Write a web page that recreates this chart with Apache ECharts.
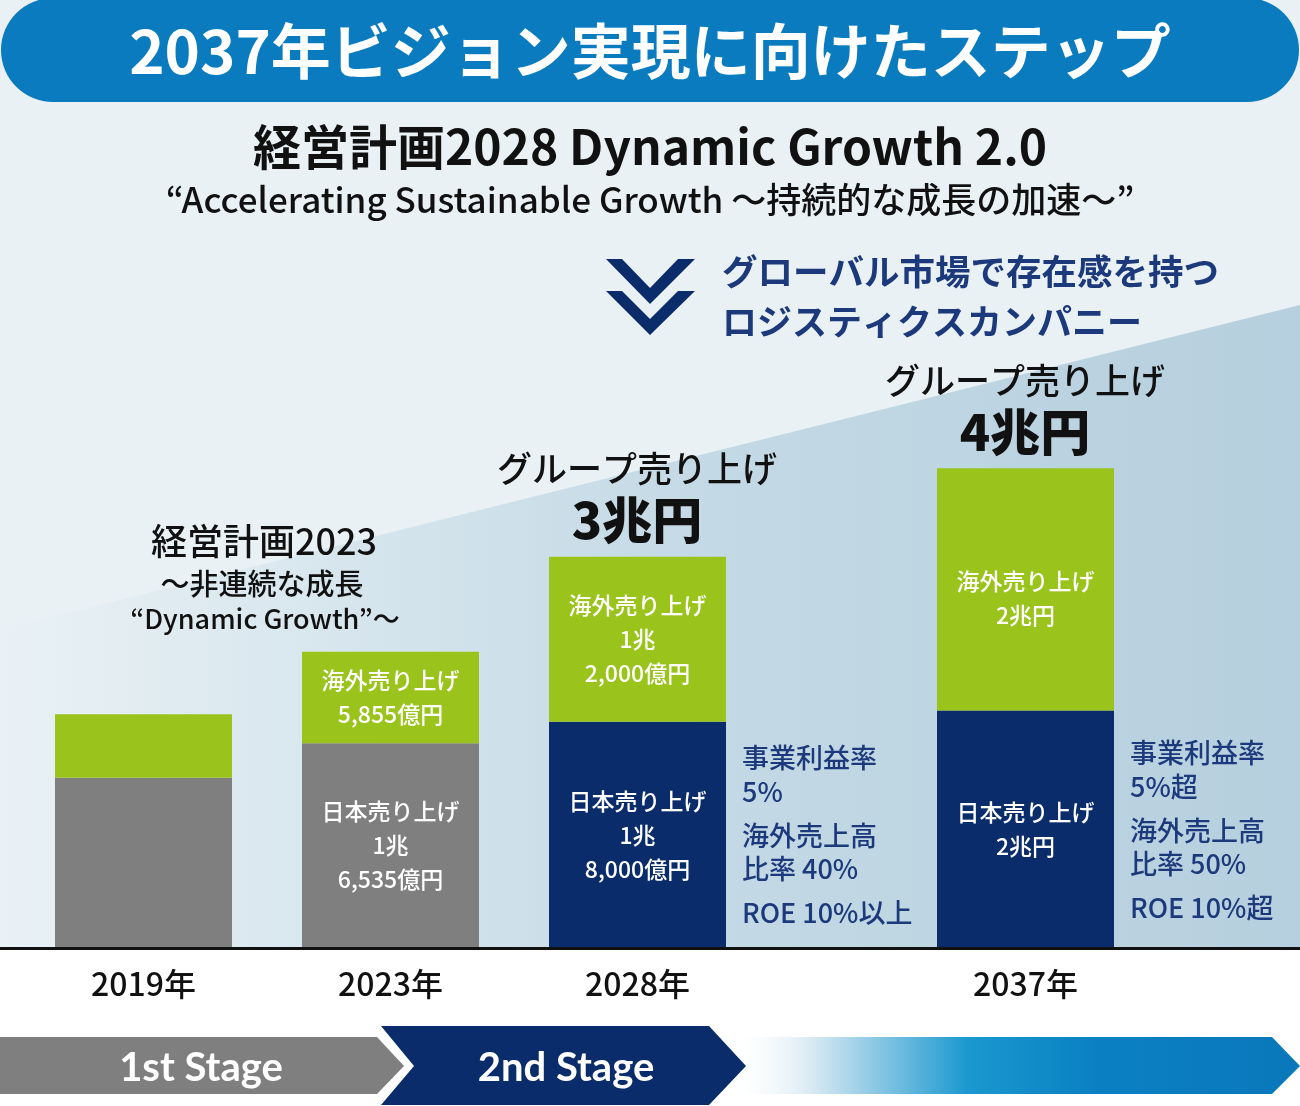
<!DOCTYPE html>
<html>
<head>
<meta charset="utf-8">
<script src="https://cdn.jsdelivr.net/npm/echarts@6/dist/echarts.min.js"></script>
<style>
html,body{margin:0;padding:0;background:#fff;}
#c{width:1300px;height:1106px;}
</style>
</head>
<body>
<div id="c"></div>
<script>
// ---- data (億円, bar heights as drawn in the picture) ----
const categories = ["2019年", "2023年", "2028年", "2037年"];
const japanSales = [13060, 15690, 17350, 18210];
const overseasSales = [4860, 7020, 12650, 18570];
const japanLabels = ["", "日本売り上げ\n1兆\n6,535億円", "日本売り上げ\n1兆\n8,000億円", "日本売り上げ\n2兆円"];
const overseasLabels = ["", "海外売り上げ\n5,855億円", "海外売り上げ\n1兆\n2,000億円", "海外売り上げ\n2兆円"];
const groupTotals = ["", "", "3兆円", "4兆円"];
const kpi2028 = ["事業利益率", "5%", "海外売上高", "比率 40%", "ROE 10%以上"];
const kpi2037 = ["事業利益率", "5%超", "海外売上高", "比率 50%", "ROE 10%超"];
const stages = ["1st Stage", "2nd Stage"];

const FONT = "'Noto Sans CJK JP', 'Noto Sans', sans-serif";
const GRAY = "#7f7f7f", NAVY = "#0b2c6b", GREEN = "#9ac31c", BLUE = "#0a7bbf", KPI = "#1c3a7b";
const japanColors = [GRAY, GRAY, NAVY, NAVY];

const chart = echarts.init(document.getElementById('c'));

function txt(text, x, y, size, weight, fill, align, family) {
  return {
    type: 'text', x: x, y: y, z: 20,
    style: { text: text, fontSize: size, fontWeight: weight, fontFamily: family || FONT, fill: fill,
             align: align || 'center', verticalAlign: 'middle' }
  };
}

function barItem(i, vals, labels, colors, offsetY) {
  return {
    value: vals[i],
    itemStyle: { color: colors ? colors[i] : GREEN },
    label: { formatter: labels[i], offset: [0, offsetY || 0] }
  };
}

const labelCommon = {
  show: true, position: 'inside', color: '#fff', fontSize: 23, fontWeight: 500,
  fontFamily: FONT, lineHeight: 34, align: 'center'
};

const yMax = 60000;
const gridBottom = 158;
const gridHeight = 782.6;

const graphics = [];
// background
graphics.push({ type: 'rect', z: -10, shape: { x: 0, y: 0, width: 1300, height: 949 }, style: { fill: '#e9f1f5' } });
graphics.push({ type: 'polygon', z: -9, shape: { points: [[0, 630], [1300, 305], [1300, 949], [0, 949]] },
  style: { fill: new echarts.graphic.LinearGradient(0, 0, 1, 0, [
    { offset: 0, color: '#e9f1f5' }, { offset: 0.55, color: '#c3d9e5' }, { offset: 1, color: '#b6cfde' }]) } });
graphics.push({ type: 'rect', z: -9, shape: { x: 0, y: 949, width: 1300, height: 157 }, style: { fill: '#ffffff' } });
// title banner
graphics.push({ type: 'rect', z: 5, shape: { x: 1, y: -2, width: 1298, height: 104, r: 52 }, style: { fill: BLUE } });
graphics.push(txt("2037年ビジョン実現に向けたステップ", 650, 51, 60, 'bold', '#fff'));
graphics.push(txt("経営計画2028 Dynamic Growth 2.0", 650, 147, 48, 'bold', '#111'));
graphics.push(txt("“Accelerating Sustainable Growth ～持続的な成長の加速～”", 650, 200, 35, 500, '#111'));
// chevrons
graphics.push({ type: 'polygon', z: 20, shape: { points: [[606, 259], [622, 259], [650, 288], [678, 259], [695, 259], [650, 304]] }, style: { fill: NAVY } });
graphics.push({ type: 'polygon', z: 20, shape: { points: [[606, 291], [622, 291], [650, 319], [678, 291], [695, 291], [650, 335]] }, style: { fill: NAVY } });
graphics.push(txt("グローバル市場で存在感を持つ", 722, 272, 35.5, 'bold', KPI, 'left'));
graphics.push(txt("ロジスティクスカンパニー", 722, 322, 35, 'bold', KPI, 'left'));
// plan 2023 note
graphics.push(txt("経営計画2023", 264, 541, 36, 500, '#111'));
graphics.push(txt("～非連続な成長", 262, 584, 29, 500, '#111'));
graphics.push(txt("“Dynamic Growth”～", 265, 619, 27, 500, '#111'));
// group totals
graphics.push(txt("グループ売り上げ", 637, 469, 35, 500, '#111'));
graphics.push(txt(groupTotals[2], 637, 520, 50, 900, '#111'));
graphics.push(txt("グループ売り上げ", 1025, 381, 35, 500, '#111'));
graphics.push(txt(groupTotals[3], 1025, 432, 50, 900, '#111'));
// KPIs
const kpiY2028 = [758, 792, 836, 869, 913];
kpi2028.forEach((t, i) => graphics.push(txt(t, 742, kpiY2028[i], 27, 500, KPI, 'left')));
kpi2037.forEach((t, i) => graphics.push(txt(t, 1130, kpiY2028[i] - 5, 27, 500, KPI, 'left')));
// baseline
graphics.push({ type: 'line', z: 50, shape: { x1: 0, y1: 948.5, x2: 1300, y2: 948.5 }, style: { stroke: '#111', lineWidth: 3 } });
// stage arrows
graphics.push({ type: 'polygon', z: 5, shape: { points: [[728, 1037], [1272, 1037], [1300, 1066], [1272, 1094], [728, 1094]] },
  style: { fill: new echarts.graphic.LinearGradient(0, 0, 1, 0, [
    { offset: 0, color: 'rgba(255,255,255,0)' }, { offset: 0.15, color: '#d6e8f2' }, { offset: 0.42, color: '#1a98cf' },
    { offset: 0.65, color: '#0a80c2' }, { offset: 1, color: '#0a78bb' }]) } });
graphics.push({ type: 'polygon', z: 6, shape: { points: [[0, 1037], [377, 1037], [404, 1066], [377, 1094], [0, 1094]] }, style: { fill: GRAY } });
graphics.push({ type: 'polygon', z: 6, shape: { points: [[381, 1026], [709, 1026], [746, 1066], [709, 1105], [381, 1105], [414, 1066]] }, style: { fill: NAVY } });
graphics.push(txt(stages[0], 201, 1068, 40, 'bold', '#fff', 'center', "'Lato', 'Noto Sans', sans-serif"));
graphics.push(txt(stages[1], 566, 1068, 40, 'bold', '#fff', 'center', "'Lato', 'Noto Sans', sans-serif"));

const xAxisCommon = {
  type: 'category', axisLine: { show: false }, axisTick: { show: false },
  axisLabel: { color: '#111', fontSize: 32, fontWeight: 500, fontFamily: FONT, margin: 20 }
};

const option = {
  backgroundColor: '#ffffff',
  animation: false,
  grid: [
    { left: 20, width: 741, bottom: gridBottom, height: gridHeight },
    { left: 902, width: 247, bottom: gridBottom, height: gridHeight }
  ],
  xAxis: [
    Object.assign({ gridIndex: 0, data: categories.slice(0, 3) }, xAxisCommon),
    Object.assign({ gridIndex: 1, data: categories.slice(3) }, xAxisCommon)
  ],
  yAxis: [
    { type: 'value', gridIndex: 0, min: 0, max: yMax, show: false },
    { type: 'value', gridIndex: 1, min: 0, max: yMax, show: false }
  ],
  series: [
    { name: '日本売り上げ', type: 'bar', xAxisIndex: 0, yAxisIndex: 0, stack: 'a', barWidth: 177, label: labelCommon,
      data: [0, 1, 2].map(i => barItem(i, japanSales, japanLabels, japanColors)) },
    { name: '海外売り上げ', type: 'bar', xAxisIndex: 0, yAxisIndex: 0, stack: 'a', barWidth: 177, label: labelCommon,
      data: [0, 1, 2].map(i => barItem(i, overseasSales, overseasLabels, null)) },
    { name: '日本売り上げ', type: 'bar', xAxisIndex: 1, yAxisIndex: 1, stack: 'b', barWidth: 177, label: labelCommon,
      data: [3].map(i => barItem(i, japanSales, japanLabels, japanColors)) },
    { name: '海外売り上げ', type: 'bar', xAxisIndex: 1, yAxisIndex: 1, stack: 'b', barWidth: 177, label: labelCommon,
      data: [3].map(i => barItem(i, overseasSales, overseasLabels, null, 9)) }
  ],
  graphic: { elements: graphics }
};
chart.setOption(option);
</script>
</body>
</html>
